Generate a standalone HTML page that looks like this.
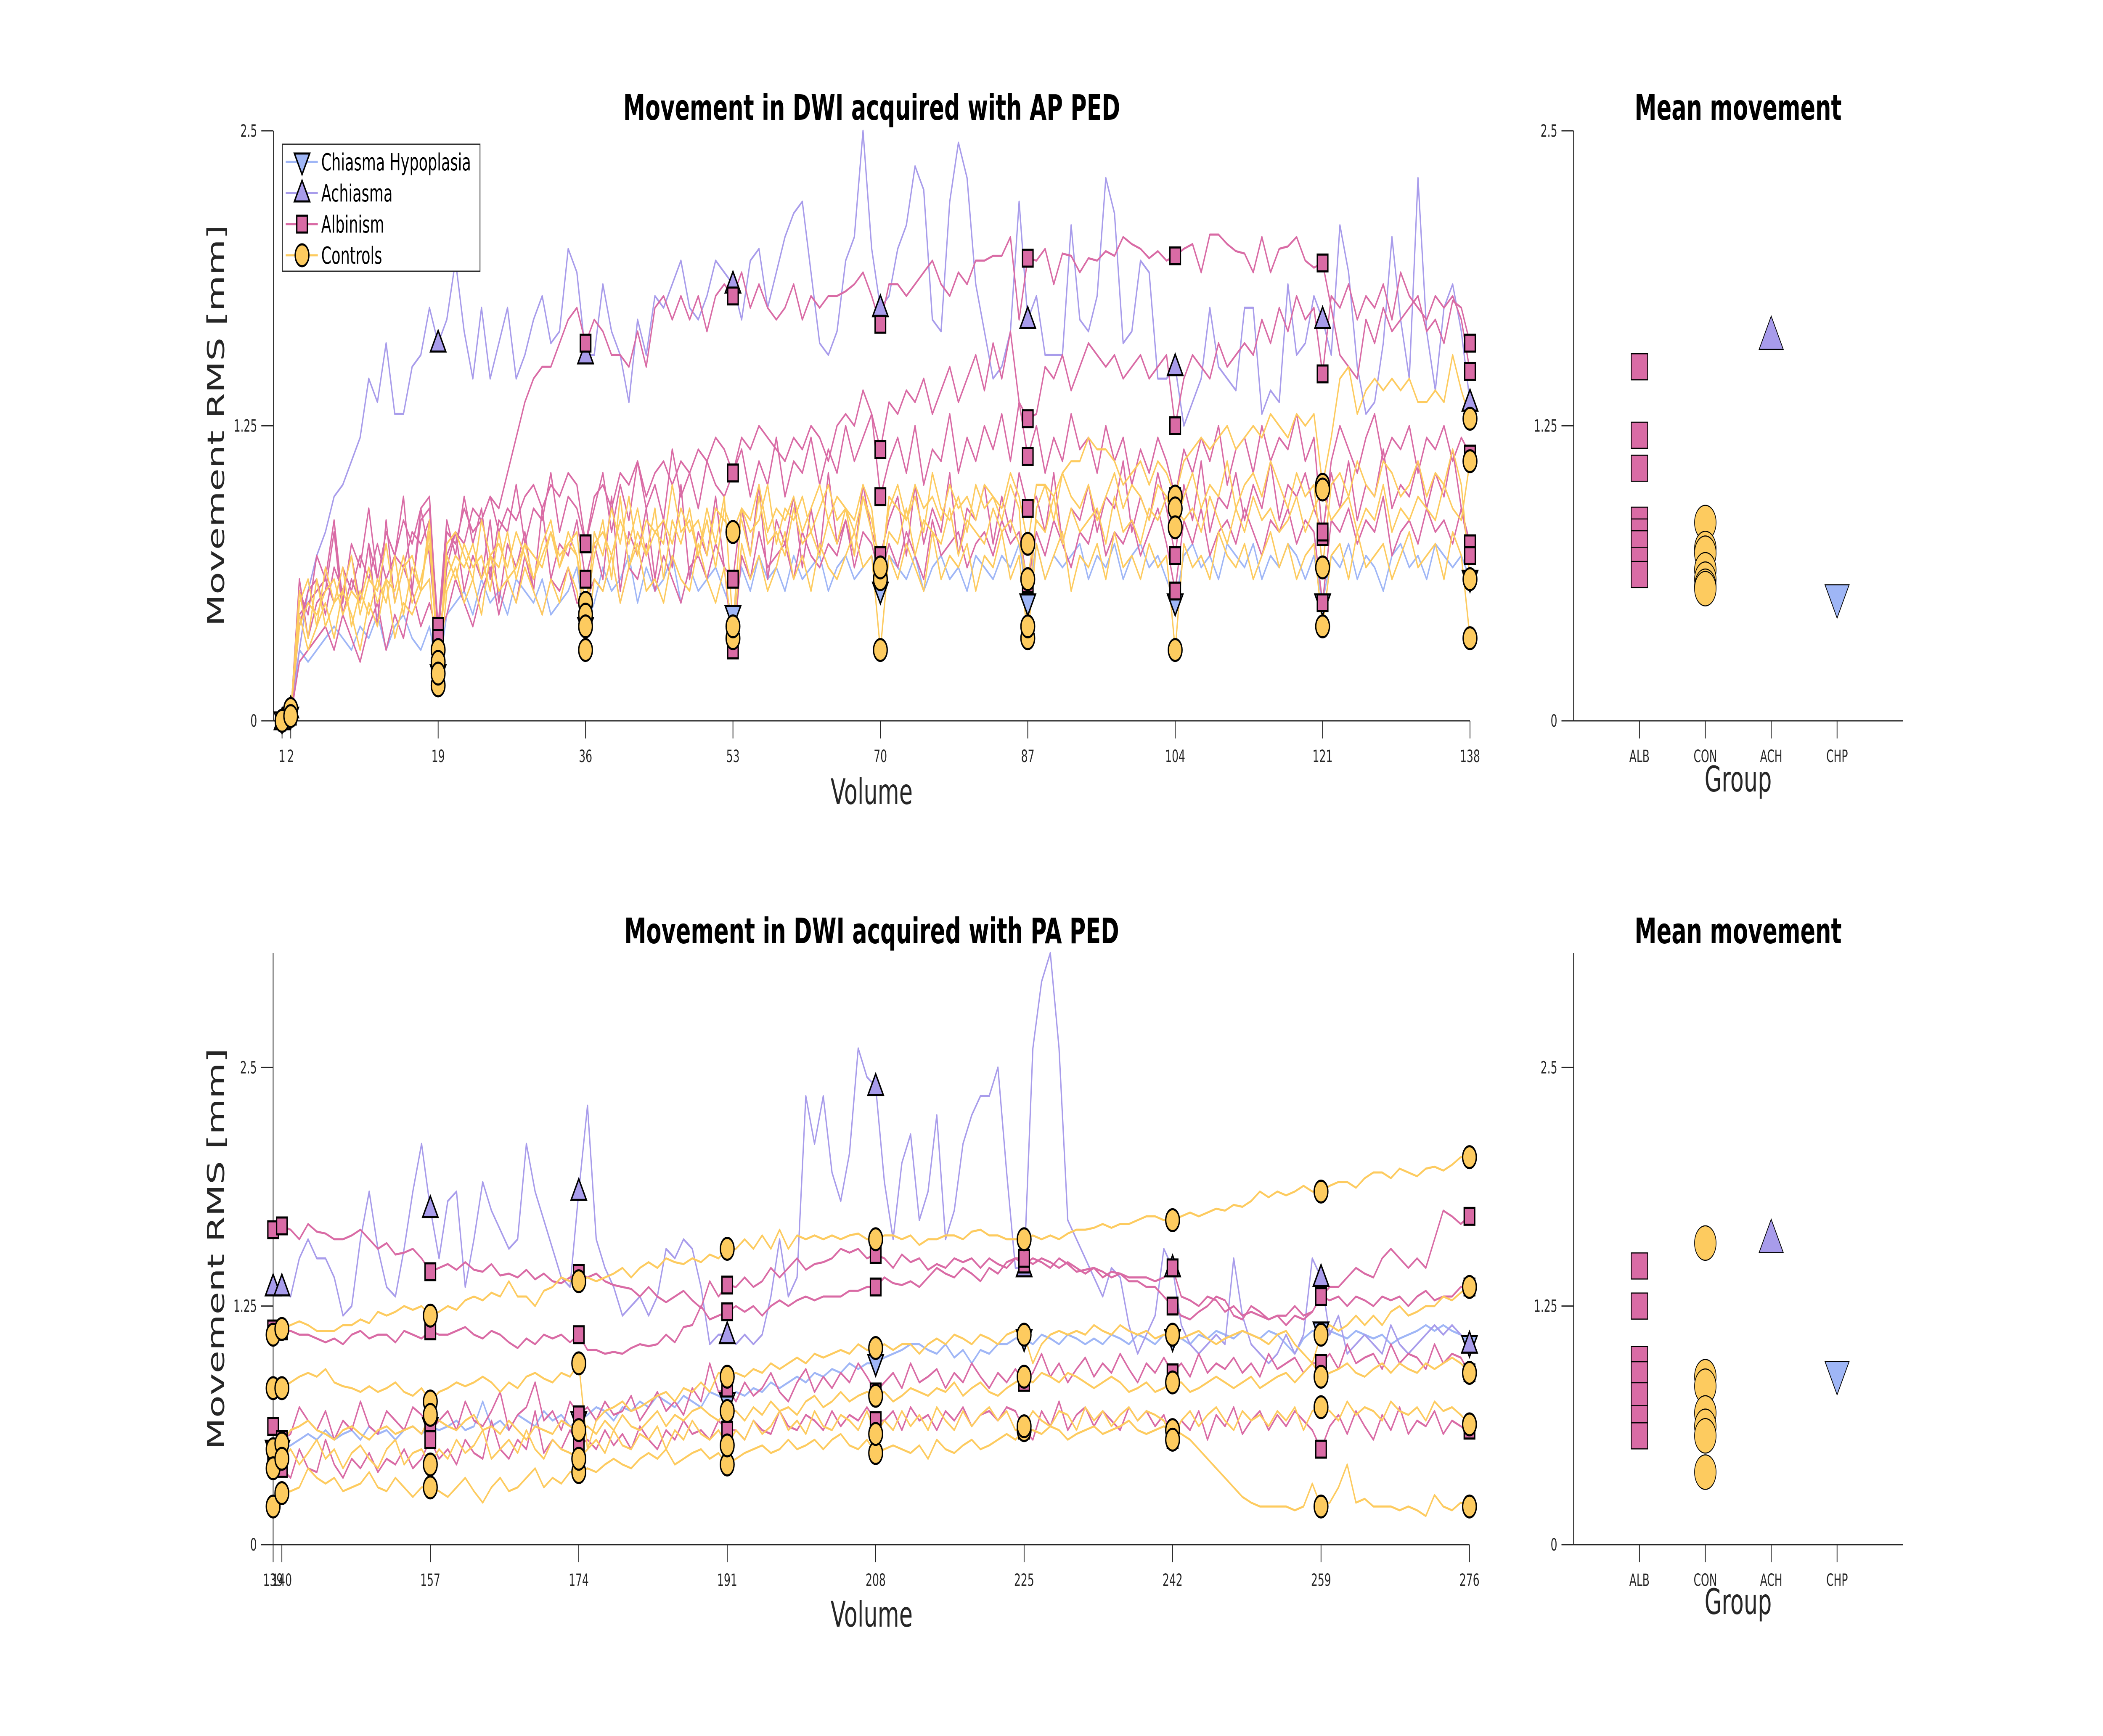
<!DOCTYPE html>
<html><head><meta charset="utf-8"><style>
html,body{margin:0;padding:0;background:#fff;overflow:hidden;width:100%;height:100%;}
svg{display:block;position:absolute;left:0;top:0;width:100vw;height:100vh;font-family:"DejaVu Sans","Liberation Sans",sans-serif;}
</style></head><body>
<svg id="chart" viewBox="0 0 8000 4128" preserveAspectRatio="none" xmlns="http://www.w3.org/2000/svg">
<rect width="8000" height="4128" fill="#fff"/>
<g id="layer"></g>
</svg>
<script>
// ---- data ----
const groups = ['ALB','CON','ACH','CHP'];
const yTicksTop = [0,1.25,2.5];
const yTickLabelsTop = ['0','1.25','2.5'];
const xTicksTop = [1,2,19,36,53,70,87,104,121,138];
const xTicksBot = [139,140,157,174,191,208,225,242,259,276];
const markerIdx = [0,1,18,35,52,69,86,103,120,137];
const topStart = 1;
const botStart = 139;

const topACH = [0,.05,
.3,.55,.7,.8,.95,1.0,1.1,1.2,1.45,1.35,1.6,1.3,1.3,1.5,1.55,1.75,1.6,
1.7,1.95,1.65,1.45,1.75,1.45,1.6,1.75,1.45,1.55,1.7,1.8,1.6,1.65,2.0,1.9,1.55,
1.55,1.85,1.65,1.55,1.35,1.7,1.55,1.8,1.75,1.85,1.95,1.75,1.7,1.8,1.95,1.9,1.85,
1.7,1.95,2.0,1.75,1.9,2.05,2.15,2.2,1.9,1.6,1.55,1.65,1.95,2.05,2.5,2.0,1.75,
1.8,2.0,2.1,2.35,2.25,1.7,1.65,2.2,2.45,2.3,1.85,1.65,1.45,1.5,1.65,2.2,1.7,
1.8,1.55,1.55,1.55,2.1,1.7,1.65,1.8,2.3,2.15,1.6,1.65,1.95,1.9,1.45,1.45,1.5,
1.25,1.35,1.45,1.75,1.5,1.45,1.4,1.75,1.75,1.3,1.4,1.35,1.85,1.55,1.6,1.8,1.7,
1.55,2.1,1.9,1.5,1.3,1.35,1.6,2.05,1.7,1.45,2.3,1.65,1.4,1.75,1.85,1.65,1.35];
const topCHP = [0,.02,
.3,.25,.3,.35,.4,.35,.3,.4,.35,.45,.3,.4,.45,.35,.3,.4,.2,
.45,.5,.55,.45,.6,.5,.55,.45,.6,.55,.5,.6,.45,.5,.55,.65,.4,
.5,.65,.55,.6,.7,.5,.65,.55,.6,.7,.5,.65,.55,.6,.65,.55,.45,
.65,.55,.7,.6,.65,.55,.7,.6,.65,.7,.55,.65,.7,.6,.65,.7,.55,
.7,.65,.6,.7,.55,.65,.7,.6,.65,.55,.7,.65,.6,.7,.65,.75,.5,
.75,.6,.7,.65,.7,.75,.6,.7,.65,.75,.6,.7,.75,.65,.7,.6,.5,
.7,.75,.65,.7,.6,.75,.7,.65,.75,.6,.7,.65,.75,.7,.6,.7,.5,
.7,.65,.75,.6,.7,.65,.55,.7,.75,.65,.7,.6,.75,.7,.65,.7,.6];
const topALB1 = [0,.03,
.45,.5,.55,.6,.5,.65,.55,.7,.6,.75,.6,.7,.65,.8,.75,.85,.4,
.7,.8,.75,.9,.85,.95,.9,1.05,1.2,1.35,1.45,1.5,1.5,1.6,1.7,1.75,1.6,
1.7,1.65,1.55,1.55,1.5,1.65,1.5,1.75,1.8,1.7,1.8,1.7,1.8,1.65,1.8,1.85,1.8,
1.9,1.75,1.85,1.75,1.7,1.75,1.85,1.7,1.8,1.75,1.8,1.8,1.82,1.85,1.9,1.8,1.68,
1.85,1.85,1.8,1.85,1.9,1.95,1.85,1.8,1.9,1.85,1.95,1.95,1.97,1.97,2.05,1.7,1.96,
1.95,2.0,1.85,1.98,1.97,1.9,1.96,1.95,1.99,1.97,2.05,2.02,2.0,1.96,1.99,1.95,1.97,
2.0,2.02,1.9,2.06,2.06,2.02,1.99,1.98,1.9,2.05,1.9,2.0,2.01,2.05,1.95,1.92,1.94,
1.75,1.55,1.5,1.45,1.7,1.6,1.75,1.65,1.7,1.75,1.8,1.65,1.7,1.6,1.78,1.75,1.6];
const topALB2 = [0,.02,
.4,.55,.6,.45,.65,.55,.7,.5,.75,.6,.8,.7,.85,.75,.9,.95,.35,
.8,.75,.9,.8,.85,.95,.8,.9,.85,.95,1.0,.9,1.0,.95,1.05,1.0,.75,
.95,1.0,.9,1.05,1.0,1.1,.95,1.05,1.1,1.0,1.1,1.05,1.15,1.1,1.2,1.15,1.05,
1.2,1.15,1.25,1.2,1.15,1.1,1.2,1.15,1.25,1.2,1.1,1.25,1.3,1.25,1.4,1.3,1.15,
1.35,1.3,1.4,1.35,1.45,1.3,1.4,1.5,1.35,1.45,1.55,1.4,1.6,1.45,1.65,1.35,1.28,
1.3,1.5,1.45,1.55,1.4,1.5,1.6,1.55,1.5,1.55,1.45,1.5,1.55,1.45,1.5,1.55,1.25,
1.45,1.55,1.5,1.45,1.6,1.5,1.55,1.6,1.55,1.7,1.6,1.75,1.65,1.8,1.7,1.75,1.47,
1.8,1.75,1.85,1.7,1.8,1.75,1.85,1.7,1.9,1.8,1.75,1.7,1.8,1.75,1.8,1.7,1.48];
const topALB3 = [0,.03,
.55,.45,.7,.6,.85,.5,.75,.65,.9,.6,.8,.7,.95,.55,.85,.9,.4,
.85,.7,.95,.75,.9,.6,.85,.8,1.0,.75,.9,.85,1.05,.8,.95,.9,.75,
.9,1.05,.8,1.0,.85,1.1,.9,1.0,.85,1.15,.95,1.05,.9,1.1,1.0,.95,1.05,
1.15,.95,1.1,1.0,1.2,.95,1.1,1.05,1.2,1.0,1.15,1.05,1.25,1.1,1.2,1.3,.95,
1.1,1.2,1.05,1.25,1.0,1.15,1.1,1.3,1.05,1.2,1.1,1.25,1.15,1.3,1.1,1.35,1.12,
1.25,1.05,1.2,1.1,1.3,1.15,1.2,1.05,1.25,1.1,1.2,1.0,1.15,1.05,1.2,1.1,.95,
1.15,1.05,1.2,1.1,1.25,1.0,1.15,1.2,1.05,1.25,1.1,1.2,1.15,1.3,1.1,1.2,.78,
1.1,1.25,1.15,1.05,1.2,1.3,1.1,1.2,1.15,1.25,1.05,1.2,1.15,1.25,1.1,1.2,1.13];
const topALB4 = [0,.02,
.6,.35,.5,.55,.8,.45,.6,.5,.75,.4,.85,.5,.65,.55,.9,.7,.3,
.65,.8,.55,.7,.6,.85,.5,.75,.65,.8,.55,.9,.6,.75,.7,.85,.6,
.75,.6,.95,.55,.8,.7,.9,.6,.85,.65,1.0,.6,.8,.7,.95,.65,.6,
.9,.7,1.0,.6,.85,.75,.95,.65,.9,.7,1.05,.75,.85,.7,1.0,.8,.7,
.85,.95,.7,1.0,.75,.9,.8,1.05,.7,.9,.85,1.0,.75,.95,.8,1.05,.9,
.95,.8,1.05,.75,.9,.85,1.0,.8,.95,.9,1.1,.8,.95,.85,1.05,.9,.7,
1.0,.85,1.1,.8,.95,.9,1.05,.85,1.0,.9,1.1,.85,1.0,.95,1.05,.9,.8,
1.05,.9,1.1,.85,1.0,.95,1.15,.9,1.0,.95,1.1,.9,1.05,.95,1.15,.9,.75];
const topALB5 = [0,.02,
.25,.3,.35,.4,.3,.45,.35,.25,.4,.5,.3,.45,.35,.55,.4,.5,.35,
.45,.6,.5,.4,.55,.65,.45,.6,.5,.7,.55,.45,.6,.55,.65,.5,.5,
.6,.55,.7,.5,.65,.6,.75,.55,.7,.6,.5,.65,.7,.6,.75,.65,.3,
.7,.6,.8,.65,.7,.75,.6,.8,.7,.65,.75,.7,.85,.65,.8,.75,.6,
.75,.65,.8,.7,.6,.85,.7,.75,.8,.65,.75,.8,.7,.85,.75,.8,.58,
.8,.7,.85,.75,.65,.8,.75,.9,.7,.8,.75,.85,.7,.8,.9,.75,.55,
.85,.75,.9,.7,.8,.85,.75,.9,.8,.7,.85,.8,.9,.75,.85,.8,.5,
.85,.8,.9,.75,.85,.8,.95,.7,.8,.85,.75,.9,.8,.85,.75,.9,.7];
const topCON1 = [0,.04,
.4,.5,.45,.55,.6,.45,.55,.5,.65,.5,.6,.55,.7,.5,.6,.75,.3,
.6,.7,.65,.75,.6,.7,.65,.8,.6,.75,.7,.65,.8,.7,.75,.7,.5,
.75,.8,.7,.85,.75,.9,.7,.8,.85,.75,.9,.8,.85,.7,.9,.85,.8,
.9,.85,1.0,.8,.9,.85,.95,.8,.9,1.0,.85,.95,.9,.85,1.0,.9,.6,
.95,.9,.85,1.0,.9,.95,.85,1.0,.9,.95,.85,1.0,.95,.9,1.05,.95,.75,
1.0,1.0,.95,1.05,1.1,1.1,1.2,1.15,1.15,1.1,1.0,1.05,1.1,1.0,1.1,1.05,.95,
1.1,1.15,1.2,1.15,1.2,1.25,1.15,1.2,1.25,1.2,1.3,1.25,1.2,1.3,1.25,1.3,1.0,
1.2,1.45,1.5,1.3,1.4,1.45,1.4,1.45,1.4,1.45,1.35,1.35,1.4,1.35,1.55,1.4,1.28];
const topCON2 = [0,.03,
.55,.35,.6,.4,.5,.65,.4,.55,.45,.6,.5,.7,.45,.65,.55,.85,.25,
.7,.6,.75,.65,.7,.55,.8,.6,.65,.75,.6,.7,.8,.65,.75,.8,.45,
.7,.85,.6,.95,.65,.8,.7,.9,.6,.85,.75,.9,.7,.85,.65,.9,.8,
.85,.7,.95,.75,.8,.7,.9,.75,.8,.7,.85,.75,.9,.7,.95,.8,.6,
.8,.75,.9,.7,.85,.8,.75,.9,.7,.85,.8,.75,.9,.8,.85,.75,.6,
.85,.8,.95,.75,.9,.8,.85,.9,.75,.95,.8,.85,.75,.9,.85,.95,.9,
.85,.9,.8,.95,.85,.75,.9,.8,.95,.85,.9,.8,.85,.95,.8,.9,.98,
.85,.9,.95,.8,.9,.85,1.0,.8,.9,.85,.95,.9,.85,1.0,.9,.85,1.1];
const topCON3 = [0,.05,
.45,.3,.4,.5,.35,.55,.45,.3,.5,.4,.6,.35,.5,.45,.55,.6,.15,
.55,.65,.5,.6,.45,.7,.55,.6,.5,.65,.55,.45,.6,.5,.65,.55,.3,
.6,.55,.7,.5,.65,.75,.55,.6,.5,.7,.6,.55,.75,.6,.5,.65,.35,
.75,.6,.7,.55,.65,.8,.6,.7,.55,.75,.65,.6,.7,.8,.65,.7,.3,
.7,.6,.75,.65,.55,.8,.6,.7,.65,.75,.55,.7,.65,.8,.6,.7,.35,
.75,.6,.7,.8,.55,.7,.65,.75,.6,.8,.65,.7,.6,.75,.65,.7,.3,
.75,.65,.7,.6,.8,.7,.65,.75,.6,.7,.8,.65,.75,.6,.7,.75,.4,
.7,.75,.6,.8,.65,.7,.75,.6,.7,.8,.65,.7,.75,.6,.8,.7,.35];
const topCON4 = [0,.02,
.5,.6,.4,.65,.5,.55,.7,.45,.6,.55,.75,.5,.65,.7,.55,.8,.2,
.75,.8,.7,.6,.85,.7,.75,.65,.8,.7,.6,.75,.85,.65,.8,.7,.4,
.8,.7,.9,.75,.95,.7,.85,.8,.75,1.0,.8,.85,.7,.9,.75,.95,.4,
.9,.8,.85,1.0,.75,.9,.85,.95,.8,.9,1.0,.85,.9,.8,.95,.85,.65,
.9,1.0,.85,.95,.8,1.05,.9,.85,.95,.8,1.0,.9,.95,.85,1.0,.9,.4,
.9,1.0,.85,1.05,.95,.9,1.0,.85,.95,1.05,.9,1.0,.95,.85,1.0,.95,.82,
.95,1.05,.9,1.0,.95,1.1,.9,1.0,1.05,.95,1.1,1.0,.9,1.05,.95,1.0,.65,
1.0,1.05,.95,1.1,1.0,.95,1.1,1.05,.95,1.0,1.1,.95,1.05,1.0,1.15,1.0,.6];

const botACH = [1.35,1.35,
1.3,1.5,1.6,1.5,1.5,1.4,1.2,1.25,1.6,1.85,1.55,1.35,1.3,1.55,1.85,2.1,1.76,
1.5,1.8,1.85,1.35,1.6,1.9,1.75,1.65,1.55,1.6,2.1,1.85,1.7,1.55,1.4,1.35,1.85,
2.3,1.6,1.45,1.35,1.2,1.25,1.3,1.2,1.3,1.55,1.5,1.6,1.55,1.35,1.05,1.1,1.1,
1.05,1.1,1.05,1.1,1.3,1.6,1.3,1.4,2.35,2.1,2.35,1.95,1.8,2.05,2.6,2.45,2.4,
1.9,1.6,2.0,2.15,1.7,1.85,2.25,1.6,1.75,2.1,2.25,2.35,2.35,2.5,1.95,1.45,1.45,
2.6,2.95,3.1,2.6,1.7,1.6,1.5,1.4,1.3,1.45,1.4,1.15,1.0,1.1,1.2,1.55,1.45,
1.15,1.05,1.0,1.05,1.1,1.05,1.5,1.2,1.05,1.0,.95,1.0,1.1,1.0,1.1,1.5,1.4,
1.1,1.2,1.0,1.05,1.1,1.05,1.0,1.15,1.05,1.0,1.05,1.1,1.15,1.1,1.15,1.1,1.05];
const botCHP = [.5,.5,
.52,.55,.58,.55,.6,.55,.58,.6,.55,.62,.58,.6,.55,.6,.62,.58,.62,
.6,.62,.65,.6,.62,.75,.62,.65,.6,.68,.65,.62,.7,.65,.68,.62,.65,
.68,.72,.7,.65,.72,.7,.75,.72,.78,.75,.72,.78,.75,.72,.8,.78,.75,
.8,.78,.82,.8,.85,.82,.85,.88,.85,.9,.88,.92,.9,.95,.92,.95,.95,
.98,1.0,1.02,1.05,1.05,1.02,1.0,1.05,.98,1.02,.95,1.02,1.0,1.05,1.05,1.08,1.08,
1.05,1.1,1.08,1.05,1.1,1.08,1.05,1.08,1.05,1.1,1.08,1.05,1.1,1.08,1.05,1.1,1.08,
1.08,1.05,1.1,1.08,1.12,1.1,1.08,1.12,1.1,1.08,1.12,1.1,1.05,1.0,1.08,1.12,1.12,
1.12,1.1,1.08,1.12,1.1,1.08,1.1,1.05,1.08,1.1,1.12,1.15,1.12,1.15,1.12,1.1,1.05];
const botALB1 = [1.65,1.67,
1.65,1.6,1.68,1.64,1.63,1.6,1.6,1.62,1.65,1.6,1.55,1.58,1.52,1.53,1.55,1.5,1.43,
1.45,1.47,1.44,1.48,1.44,1.43,1.47,1.41,1.42,1.4,1.44,1.39,1.42,1.38,1.37,1.4,1.42,
1.4,1.42,1.38,1.36,1.35,1.34,1.3,1.35,1.3,1.27,1.3,1.33,1.28,1.24,1.38,1.3,1.36,
1.35,1.4,1.35,1.38,1.45,1.4,1.45,1.5,1.44,1.47,1.48,1.5,1.55,1.53,1.55,1.5,1.52,
1.5,1.45,1.52,1.48,1.5,1.44,1.47,1.45,1.5,1.48,1.5,1.45,1.5,1.47,1.45,1.5,1.47,
1.5,1.48,1.45,1.5,1.47,1.43,1.44,1.45,1.43,1.4,1.42,1.4,1.4,1.4,1.38,1.4,1.45,
1.3,1.28,1.25,1.3,1.28,1.22,1.25,1.2,1.22,1.2,1.18,1.2,1.2,1.25,1.2,1.22,1.3,
1.28,1.3,1.25,1.3,1.28,1.25,1.3,1.28,1.3,1.25,1.3,1.33,1.28,1.3,1.3,1.35,1.35];
const botALB2 = [1.13,1.12,
1.12,1.1,1.1,1.08,1.06,1.08,1.05,1.1,1.12,1.08,1.1,1.1,1.06,1.12,1.1,1.08,1.12,
1.1,1.1,1.12,1.14,1.1,1.08,1.12,1.1,1.06,1.03,1.08,1.05,1.1,1.08,1.1,1.06,1.1,
1.02,1.02,1.0,1.01,1.0,1.03,1.05,1.04,1.05,1.1,1.06,1.14,1.15,1.25,1.18,1.2,1.22,
1.25,1.22,1.25,1.2,1.25,1.28,1.25,1.28,1.3,1.28,1.3,1.3,1.3,1.33,1.33,1.35,1.35,
1.4,1.37,1.36,1.38,1.35,1.4,1.45,1.42,1.4,1.45,1.42,1.38,1.45,1.42,1.48,1.5,1.5,
1.47,1.5,1.48,1.45,1.48,1.45,1.42,1.45,1.4,1.43,1.42,1.38,1.38,1.35,1.35,1.3,1.25,
1.2,1.18,1.22,1.25,1.3,1.28,1.2,1.18,1.25,1.22,1.18,1.2,1.15,1.2,1.18,1.22,1.3,
1.35,1.35,1.4,1.45,1.42,1.4,1.5,1.55,1.5,1.45,1.5,1.45,1.6,1.75,1.72,1.68,1.72];
const botALB3 = [.62,.55,
.58,.72,.65,.6,.7,.55,.65,.6,.75,.62,.58,.7,.65,.6,.72,.68,.6,
.65,.7,.6,.75,.65,.62,.7,.8,.6,.68,.72,.85,.65,.7,.6,.75,.68,
.72,.65,.75,.68,.7,.78,.65,.72,.8,.7,.75,.68,.82,.75,.95,.8,.82,
.75,.85,.78,.82,.9,.8,.75,.85,.92,.8,.88,.82,.9,.85,.95,.88,.8,
.85,.9,.82,.95,.85,.88,.92,.82,.9,.85,.95,.88,.82,.9,.85,.92,.85,
.9,1.0,.88,.95,.85,.92,.98,.88,.95,.9,1.0,.92,.85,.95,.9,.98,.9,
.95,.88,1.0,.9,.95,.92,.98,.9,.95,.88,1.0,.92,.95,.98,.9,.95,.95,
1.0,.92,1.05,.95,.98,1.0,.92,1.05,.95,1.0,.98,.92,1.05,.95,1.0,.98,.9];
const botALB4 = [.45,.4,
.35,.5,.4,.38,.55,.42,.35,.45,.4,.48,.38,.45,.42,.5,.4,.45,.55,
.45,.5,.42,.55,.48,.45,.65,.5,.45,.55,.5,.7,.48,.55,.5,.6,.52,
.55,.5,.6,.52,.58,.5,.62,.55,.5,.6,.55,.65,.58,.6,.55,.65,.6,
.6,.55,.65,.6,.58,.7,.62,.6,.68,.65,.6,.7,.62,.68,.65,.72,.65,
.65,.7,.6,.72,.65,.68,.6,.7,.65,.72,.62,.68,.7,.65,.72,.7,.6,
.55,.7,.62,.75,.6,.68,.72,.62,.7,.65,.6,.72,.65,.7,.62,.68,.55,
.65,.6,.7,.55,.68,.62,.72,.58,.65,.7,.6,.68,.62,.7,.65,.6,.5,
.62,.68,.58,.7,.62,.55,.68,.6,.72,.58,.65,.62,.7,.58,.65,.62,.6];
const botCON1 = [1.1,1.13,
1.15,1.17,1.15,1.12,1.12,1.12,1.15,1.15,1.18,1.16,1.22,1.2,1.22,1.25,1.23,1.25,1.2,
1.22,1.25,1.23,1.28,1.3,1.28,1.32,1.3,1.38,1.3,1.3,1.25,1.33,1.35,1.4,1.38,1.38,
1.4,1.38,1.4,1.42,1.45,1.4,1.45,1.48,1.45,1.5,1.48,1.47,1.5,1.48,1.52,1.5,1.55,
1.55,1.6,1.55,1.62,1.55,1.65,1.55,1.62,1.6,1.62,1.6,1.62,1.6,1.62,1.63,1.6,1.6,
1.62,1.62,1.6,1.62,1.57,1.6,1.6,1.62,1.62,1.6,1.64,1.65,1.62,1.62,1.6,1.6,1.6,
1.62,1.6,1.62,1.6,1.63,1.65,1.65,1.66,1.68,1.66,1.68,1.68,1.7,1.72,1.72,1.7,1.7,
1.72,1.74,1.72,1.74,1.76,1.75,1.78,1.77,1.8,1.85,1.82,1.85,1.83,1.85,1.88,1.85,1.85,
1.88,1.9,1.9,1.87,1.92,1.95,1.95,1.92,1.97,1.95,1.93,1.97,1.98,1.96,1.99,2.03,2.03];
const botCON2 = [.82,.82,
.85,.88,.9,.88,.92,.85,.83,.82,.8,.83,.8,.82,.85,.8,.78,.82,.75,
.8,.82,.85,.83,.85,.88,.85,.8,.85,.82,.88,.9,.87,.85,.9,.88,.95,
.5,.65,.7,.72,.75,.7,.72,.75,.78,.8,.75,.82,.8,.85,.8,.9,.88,
.9,.88,.92,.9,.95,.92,.95,.98,.95,1.0,.98,1.0,1.02,1.0,1.05,1.02,1.03,
1.05,1.02,1.05,1.05,1.0,1.05,1.08,1.05,1.1,1.08,1.05,1.1,1.08,1.05,1.1,1.12,1.1,
.95,1.05,1.1,1.12,1.1,1.12,1.1,1.15,1.12,1.1,1.15,1.12,1.1,1.12,1.08,1.1,1.1,
1.08,1.1,1.12,1.08,1.05,1.08,1.1,1.12,1.1,1.08,1.05,1.1,1.12,1.05,1.0,.95,1.1,
1.15,1.12,1.15,1.2,1.15,1.2,1.15,1.22,1.25,1.2,1.22,1.25,1.25,1.3,1.28,1.32,1.35];
const botCON3 = [.2,.27,
.28,.3,.4,.35,.32,.35,.28,.3,.32,.38,.3,.28,.35,.3,.25,.3,.3,
.28,.25,.3,.35,.28,.22,.3,.35,.28,.3,.35,.4,.3,.35,.32,.38,.38,
.4,.38,.42,.45,.42,.4,.45,.48,.45,.5,.42,.45,.48,.5,.45,.48,.42,
.45,.48,.5,.52,.48,.5,.55,.5,.52,.55,.5,.55,.58,.52,.5,.55,.48,
.5,.52,.5,.48,.52,.45,.55,.5,.48,.52,.55,.5,.52,.55,.58,.55,.6,
.6,.58,.62,.6,.55,.58,.6,.62,.58,.6,.62,.65,.6,.58,.6,.62,.6,
.58,.55,.5,.45,.4,.35,.3,.25,.22,.2,.2,.2,.2,.18,.2,.32,.2,
.22,.3,.42,.22,.24,.2,.2,.2,.18,.2,.18,.15,.26,.2,.18,.22,.2];
const botCON4 = [.5,.53,
.6,.62,.65,.6,.58,.55,.6,.62,.58,.55,.6,.62,.58,.6,.62,.58,.68,
.65,.62,.6,.65,.68,.6,.62,.58,.65,.6,.55,.62,.6,.58,.65,.62,.6,
.62,.58,.65,.6,.68,.62,.6,.65,.7,.62,.68,.65,.7,.72,.68,.65,.7,
.7,.65,.72,.68,.75,.7,.72,.68,.75,.78,.72,.75,.8,.75,.78,.8,.78,
.8,.75,.78,.82,.8,.78,.82,.8,.85,.78,.82,.85,.8,.78,.82,.85,.88,
.85,.9,.88,.85,.9,.88,.85,.82,.85,.88,.85,.8,.82,.85,.8,.82,.85,
.85,.8,.82,.85,.88,.85,.82,.85,.88,.82,.85,.88,.9,.85,.9,.95,.88,
.9,.92,.95,.9,.88,.92,.95,.9,.95,.92,.9,.95,.92,.95,.98,.95,.9];
const botCON5 = [.4,.45,
.5,.42,.48,.55,.45,.5,.4,.48,.52,.45,.4,.5,.55,.42,.48,.5,.42,
.5,.45,.55,.48,.52,.6,.45,.5,.55,.48,.6,.5,.45,.55,.5,.48,.45,
.5,.55,.48,.6,.52,.5,.58,.55,.62,.5,.6,.55,.65,.58,.55,.6,.52,
.6,.55,.65,.58,.62,.7,.6,.65,.58,.7,.62,.6,.68,.65,.6,.7,.58,
.65,.6,.7,.62,.68,.6,.72,.65,.6,.7,.62,.68,.72,.65,.7,.6,.62,
.7,.65,.62,.7,.68,.6,.72,.65,.7,.62,.68,.72,.65,.7,.68,.65,.55,
.65,.7,.62,.68,.72,.65,.6,.7,.65,.68,.62,.7,.65,.72,.6,.7,.72,
.7,.65,.75,.68,.72,.7,.65,.75,.7,.68,.72,.65,.75,.7,.72,.68,.63];

const meanTopALB = [1.5,1.21,1.07,0.85,0.80,0.75,0.68,0.62];
const meanTopCON = [0.84,0.73,0.71,0.64,0.60,0.57,0.56];
const meanTopACH = [1.63];
const meanTopCHP = [0.52];
const meanBotALB = [1.46,1.25,0.97,0.89,0.78,0.66,0.57];
const meanBotCON = [1.58,0.88,0.83,0.69,0.62,0.57,0.38];
const meanBotACH = [1.60];
const meanBotCHP = [0.89];

// ---- rendering ----
const NS='http://www.w3.org/2000/svg';
const layer=document.getElementById('layer');
const COL={CHP:'#9fb6f6',ACH:'#a89ceb',ALB:'#d96ba5',CON:'#fdcb5f'};
function mk(tag,attrs,parent){const e=document.createElementNS(NS,tag);for(const k in attrs)e.setAttribute(k,attrs[k]);(parent||layer).appendChild(e);return e;}
function txt(x,y,s,size,opts,parent){const t=mk('text',Object.assign({x:x,y:y,'font-size':size,'text-anchor':'middle','fill':'#262626'},opts||{}),parent);t.textContent=s;return t;}

function scaleX(p,v){return p.x0+(v-p.xmin)/(p.xmax-p.xmin)*(p.x1-p.x0);}
function scaleY(p,v){return p.y0-(v-p.ymin)/(p.ymax-p.ymin)*(p.y0-p.y1);}

function marker(g,type,cx,cy,size,sw){
  let e;
  if(type==='ALB'){e=mk('rect',{x:cx-size/2,y:cy-size/2,width:size,height:size,fill:COL.ALB,stroke:'#000','stroke-width':sw},g);}
  else if(type==='CON'){e=mk('circle',{cx:cx,cy:cy,r:size/2,fill:COL.CON,stroke:'#000','stroke-width':sw},g);}
  else if(type==='ACH'){const h=size*0.86;e=mk('polygon',{points:`${cx},${cy-h*0.6} ${cx-size/2},${cy+h*0.4} ${cx+size/2},${cy+h*0.4}`,fill:COL.ACH,stroke:'#000','stroke-width':sw},g);}
  else {const h=size*0.86;e=mk('polygon',{points:`${cx},${cy+h*0.6} ${cx-size/2},${cy-h*0.4} ${cx+size/2},${cy-h*0.4}`,fill:COL.CHP,stroke:'#000','stroke-width':sw},g);}
  return e;
}

function axes(p,name,xt,xtl,yt,ytl){
  const g=mk('g',{});
  
  
  const ya=mk('line',{x1:p.x0,y1:p.y1,x2:p.x0,y2:p.y0,stroke:'#262626','stroke-width':3},g);
  
  
  const xa=mk('line',{x1:p.x0,y1:p.y0,x2:p.x1,y2:p.y0,stroke:'#262626','stroke-width':3},g);
  
  
  yt.forEach((v,i)=>{const y=scaleY(p,v);
    mk('line',{x1:p.x0-46,y1:y,x2:p.x0,y2:y,stroke:'#262626','stroke-width':3},g);
    const t=txt(p.x0-62,y+14,ytl[i],40,{'text-anchor':'end'},g);
    
    
  });
  xt.forEach((v,i)=>{const x=scaleX(p,v);
    mk('line',{x1:x,y1:p.y0,x2:x,y2:p.y0+42,stroke:'#262626','stroke-width':3},g);
    const t=txt(x,p.y0+98,xtl[i],40,{},g);
    
    
  });
}

function linePanel(p,name,start,seriesList){
  const g=mk('g',{});
  
  
  const order=['CHP','ACH','ALB','CON'];
  order.forEach(grp=>{seriesList.filter(s=>s.grp===grp).forEach(s=>{
    const pts=s.vals.map((v,i)=>scaleX(p,start+i).toFixed(1)+','+scaleY(p,v).toFixed(1)).join(' ');
    const pl=mk('polyline',{points:pts,fill:'none',stroke:COL[grp],'stroke-width':5,'stroke-linejoin':'round'},g);
    
    
  });});
  seriesList.forEach(s=>{markerIdx.forEach(i=>{
    const m=marker(g,s.grp,scaleX(p,start+i),scaleY(p,s.vals[i]),s.grp==='CON'?52:(s.grp==='ALB'?40:58),5);
    
    
  });});
}

function meanPanel(p,name,data){
  const g=mk('g',{});
  
  
  groups.forEach((grp,gi)=>{
    const x=scaleX(p,gi+1);
    data[grp].forEach(v=>{
      const m=marker(g,grp,x,scaleY(p,v),grp==='CON'?82:(grp==='ALB'?62:92),2.5);
      
      
    });
  });
}

const pTL={x0:1040,x1:5592,xmin:0,xmax:138,y0:1714,y1:311,ymin:0,ymax:2.5};
const pBL={x0:1039,x1:5590,xmin:139,xmax:276,y0:3673,y1:2266,ymin:0,ymax:3.1};
const pTR={x0:5986,x1:7239,xmin:0,xmax:5,y0:1714,y1:311,ymin:0,ymax:2.5};
const pBR={x0:5986,x1:7239,xmin:0,xmax:5,y0:3673,y1:2266,ymin:0,ymax:3.1};

axes(pTL,'ap-movement',xTicksTop,xTicksTop.map(String),yTicksTop,yTickLabelsTop);
axes(pBL,'pa-movement',xTicksBot,xTicksBot.map(String),yTicksTop,yTickLabelsTop);
axes(pTR,'ap-mean',[1,2,3,4],groups,yTicksTop,yTickLabelsTop);
axes(pBR,'pa-mean',[1,2,3,4],groups,yTicksTop,yTickLabelsTop);

linePanel(pTL,'ap',topStart,[
 {grp:'CHP',vals:topCHP},{grp:'ACH',vals:topACH},
 {grp:'ALB',vals:topALB1},{grp:'ALB',vals:topALB2},{grp:'ALB',vals:topALB3},{grp:'ALB',vals:topALB4},{grp:'ALB',vals:topALB5},
 {grp:'CON',vals:topCON1},{grp:'CON',vals:topCON2},{grp:'CON',vals:topCON3},{grp:'CON',vals:topCON4}]);
linePanel(pBL,'pa',botStart,[
 {grp:'CHP',vals:botCHP},{grp:'ACH',vals:botACH},
 {grp:'ALB',vals:botALB1},{grp:'ALB',vals:botALB2},{grp:'ALB',vals:botALB3},{grp:'ALB',vals:botALB4},
 {grp:'CON',vals:botCON1},{grp:'CON',vals:botCON2},{grp:'CON',vals:botCON3},{grp:'CON',vals:botCON4},{grp:'CON',vals:botCON5}]);

meanPanel(pTR,'ap-mean',{ALB:meanTopALB,CON:meanTopCON,ACH:meanTopACH,CHP:meanTopCHP});
meanPanel(pBR,'pa-mean',{ALB:meanBotALB,CON:meanBotCON,ACH:meanBotACH,CHP:meanBotCHP});

function label(x,y,s,size,name,opts){const t=txt(x,y,s,size,opts);return t;}
label(3316,285,'Movement in DWI acquired with AP PED',84,'ap-title',{'font-weight':'bold',fill:'#000'});
label(6612,285,'Mean movement',84,'ap-mean-title',{'font-weight':'bold',fill:'#000'});
label(3316,2243,'Movement in DWI acquired with PA PED',84,'pa-title',{'font-weight':'bold',fill:'#000'});
label(6612,2243,'Mean movement',84,'pa-mean-title',{'font-weight':'bold',fill:'#000'});
label(3316,1912,'Volume',84,'ap-x-axis-title');
label(3316,3868,'Volume',84,'pa-x-axis-title');
label(6612,1882,'Group',84,'ap-mean-x-axis-title');
label(6612,3838,'Group',84,'pa-mean-x-axis-title');
label(0,0,'Movement RMS [mm]',88,'ap-y-axis-title',{transform:'translate(852,1012) rotate(-90)'});
label(0,0,'Movement RMS [mm]',88,'pa-y-axis-title',{transform:'translate(852,2970) rotate(-90)'});

const lg=mk('g',{});


mk('rect',{x:1074,y:343,width:752,height:302,fill:'#fff',stroke:'#262626','stroke-width':3},lg);
const legendNames=['Chiasma Hypoplasia','Achiasma','Albinism','Controls'];
const legendGroups=['CHP','ACH','ALB','CON'];
legendGroups.forEach((grp,i)=>{
  const y=385+i*74;
  const e=mk('g',{},lg);
  
  
  mk('line',{x1:1087,y1:y,x2:1209,y2:y,stroke:COL[grp],'stroke-width':5},e);
  marker(e,grp,1149,y,grp==='CON'?52:(grp==='ALB'?40:58),5);
  txt(1222,y+20,legendNames[i],56,{'text-anchor':'start',fill:'#000'},e);
});
</script>
</body></html>
